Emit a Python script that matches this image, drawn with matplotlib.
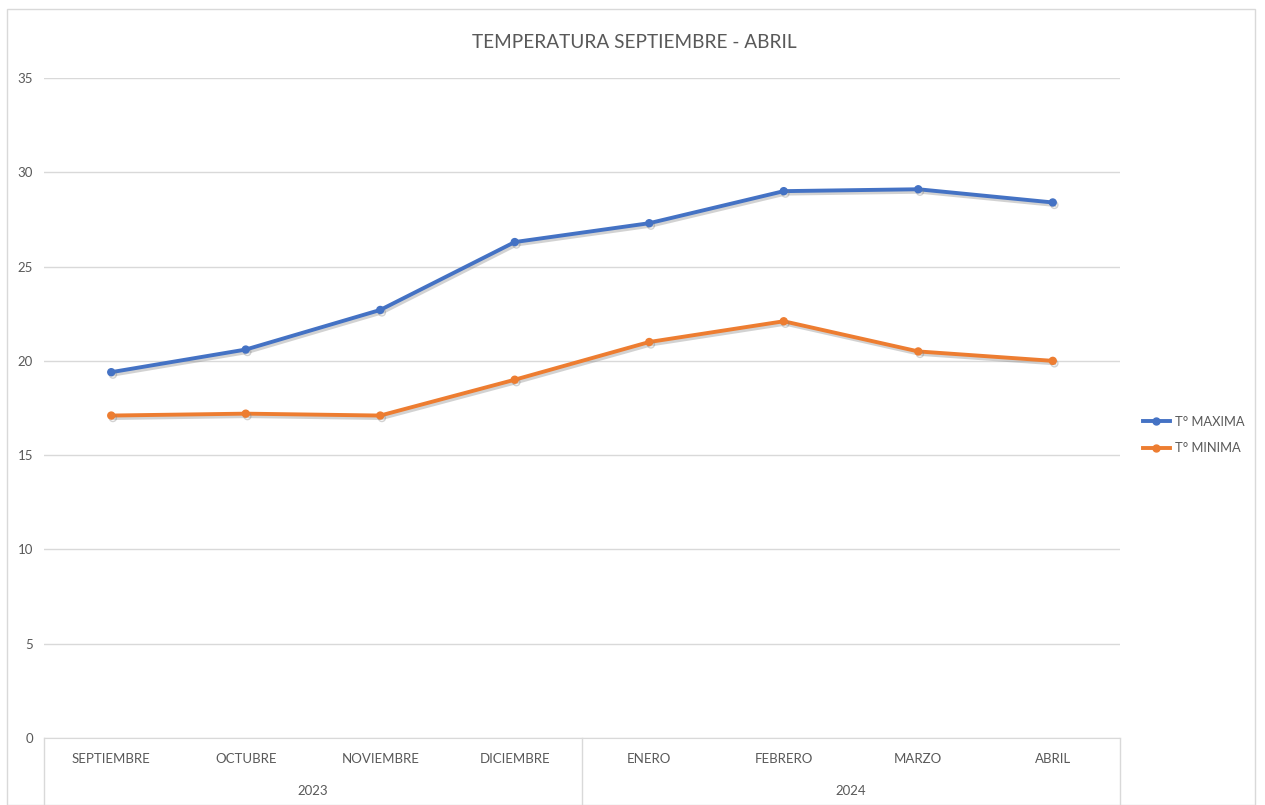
import numpy as np
import matplotlib
matplotlib.use("Agg")
import matplotlib.pyplot as plt
import matplotlib.patheffects as pe
from matplotlib.patches import Rectangle

plt.rcParams['font.family'] = ['Lato', 'DejaVu Sans']

months = ['SEPTIEMBRE', 'OCTUBRE', 'NOVIEMBRE', 'DICIEMBRE',
          'ENERO', 'FEBRERO', 'MARZO', 'ABRIL']
years = ['2023', '2024']
months_per_year = [4, 4]
t_max = [19.4, 20.6, 22.7, 26.3, 27.3, 29.0, 29.1, 28.4]
t_min = [17.1, 17.2, 17.1, 19.0, 21.0, 22.1, 20.5, 20.0]

grey = '#595959'
grid = '#D9D9D9'

fig = plt.figure(figsize=(12.65, 8.05), dpi=100)
fig.patches.append(Rectangle((7 / 1265, 0), 1248 / 1265, 1 - 9 / 805,
                             transform=fig.transFigure, fill=False,
                             edgecolor=grid, lw=1))
ax = fig.add_axes([44 / 1265, 1 - 738 / 805, 1076 / 1265, 660 / 805])

x = np.arange(len(months)) + 0.5
shadow = [pe.SimpleLineShadow(offset=(1.2, -1.8), shadow_color='#7f7f7f', alpha=0.35),
          pe.Normal()]
l1, = ax.plot(x, t_max, color='#4472C4', lw=2.8, marker='o', ms=5,
              label='T° MAXIMA', zorder=3)
l2, = ax.plot(x, t_min, color='#ED7D31', lw=2.8, marker='o', ms=5,
              label='T° MINIMA', zorder=3)

ax.set_xlim(0, len(months))
ax.set_ylim(0, 35)
ax.set_yticks(np.arange(0, 36, 5))
ax.yaxis.grid(True, color=grid, lw=1)
ax.set_axisbelow(True)
for s in ['top', 'right', 'left']:
    ax.spines[s].set_visible(False)
ax.spines['bottom'].set_color(grid)
ax.tick_params(axis='y', length=0, pad=8, labelsize=9.5, labelcolor=grey)
ax.set_xticks(x)
ax.set_xticklabels(months)
ax.tick_params(axis='x', length=0, pad=11, labelsize=9.5, labelcolor=grey)

# year groups
start = 0
for yr, n in zip(years, months_per_year):
    ax.text(start + n / 2, -0.08, yr, transform=ax.get_xaxis_transform(),
            ha='center', va='center', fontsize=9.5, color=grey)
    start += n
bounds = np.concatenate([[0], np.cumsum(months_per_year)])
for b in bounds:
    ax.plot([b, b], [0, -0.11], transform=ax.get_xaxis_transform(),
            color=grid, lw=1, clip_on=False)

fig.text(634 / 1265, 1 - 42 / 805, 'TEMPERATURA SEPTIEMBRE - ABRIL',
         ha='center', va='center', fontsize=13.7, color=grey)

ax.legend(loc='center left', bbox_to_anchor=(1131 / 1265, 1 - 435 / 805),
          bbox_transform=fig.transFigure, frameon=False, fontsize=9.3,
          labelcolor=grey, handlelength=2.1, handletextpad=0.4,
          labelspacing=1.15)

# shadows on the data lines only (legend handles stay plain)
l1.set_path_effects(shadow)
l2.set_path_effects(shadow)

fig.savefig('out.png', dpi=100)
